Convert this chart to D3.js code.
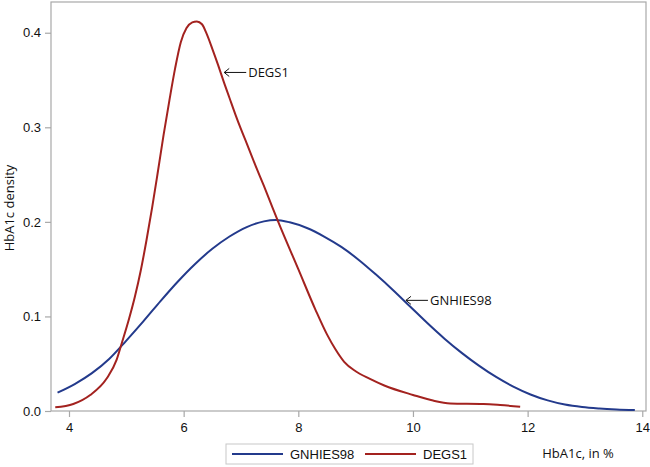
<!DOCTYPE html>
<html>
<head>
<meta charset="utf-8">
<script src="https://cdn.jsdelivr.net/npm/d3@7"></script>
<style>
  body { margin: 0; background: #fff; }
  svg { display: block; }
</style>
</head>
<body>
<div id="container"></div>
<script>
const width = 650,
  height = 467,
  margin = { top: 2, right: 4, bottom: 56, left: 51 }

// HbA1c (%) and density
const gnhiesX = [3.80, 4.10, 4.40, 4.70, 5.00, 5.30, 5.60, 5.90, 6.20, 6.50, 6.80, 7.10, 7.40, 7.60, 7.85, 8.15, 8.45, 8.75, 9.05, 9.35, 9.65, 9.95, 10.25, 10.55, 10.85, 11.15, 11.45, 11.75, 12.05, 12.35, 12.65, 12.95, 13.25, 13.55, 13.87]
const gnhiesY = [0.0194, 0.0285, 0.040, 0.055, 0.0745, 0.095, 0.1165, 0.137, 0.1555, 0.1715, 0.1845, 0.1945, 0.2005, 0.202, 0.1995, 0.1935, 0.1845, 0.1735, 0.160, 0.1445, 0.128, 0.1105, 0.093, 0.0765, 0.0615, 0.048, 0.036, 0.0258, 0.0175, 0.0112, 0.0068, 0.0042, 0.0027, 0.0017, 0.0010]

const degsX = [3.76, 4.075, 4.37, 4.66, 4.83, 4.92, 5.05, 5.15, 5.25, 5.35, 5.45, 5.55, 5.65, 5.75, 5.85, 5.95, 6.05, 6.15, 6.23, 6.32, 6.40, 6.50, 6.60, 6.70, 6.80, 6.90, 7.00, 7.10, 7.25, 7.40, 7.55, 7.65, 8.00, 8.30, 8.50, 8.65, 8.80, 9.00, 9.25, 9.50, 10.00, 10.35, 10.65, 11.23, 11.52, 11.87]
const degsY = [0.0039, 0.0074, 0.0169, 0.0346, 0.054, 0.0716, 0.098, 0.121, 0.148, 0.180, 0.215, 0.253, 0.292, 0.328, 0.362, 0.390, 0.405, 0.411, 0.412, 0.409, 0.399, 0.383, 0.366, 0.348, 0.331, 0.314, 0.298, 0.283, 0.260, 0.238, 0.215, 0.200, 0.150, 0.107, 0.081, 0.065, 0.052, 0.042, 0.034, 0.027, 0.017, 0.011, 0.008, 0.0074, 0.0063, 0.0045]

const xTicks = [4, 6, 8, 10, 12, 14]
const yTicks = [0.0, 0.1, 0.2, 0.3, 0.4]
const seriesNames = ["GNHIES98", "DEGS1"]
const seriesColors = ["#233a8c", "#a3221f"]

const series = [
  { name: seriesNames[0], color: seriesColors[0], values: gnhiesX.map((x, i) => ({ x: x, y: gnhiesY[i] })) },
  { name: seriesNames[1], color: seriesColors[1], values: degsX.map((x, i) => ({ x: x, y: degsY[i] })) }
]

// SCALES
const xScale = d3.scaleLinear()
  .domain([3.686, 14.065])
  .range([margin.left, width - margin.right])

const yScale = d3.scaleLinear()
  .domain([0, 0.4325])
  .range([height - margin.bottom, margin.top])

const svg = d3.select("#container")
  .append("svg")
  .attr("width", width)
  .attr("height", height)

// frame
svg.append("rect")
  .attr("x", margin.left)
  .attr("y", margin.top)
  .attr("width", width - margin.right - margin.left)
  .attr("height", height - margin.bottom - margin.top)
  .attr("fill", "none")
  .attr("stroke", "#a8a8a8")
  .attr("stroke-width", 1.2)

// AXES
const xAxis = d3.axisBottom(xScale).tickValues(xTicks).tickFormat(d3.format("d")).tickSize(6).tickPadding(6)
svg.append("g")
  .attr("transform", `translate(0,${height - margin.bottom})`)
  .call(xAxis)

const yAxis = d3.axisLeft(yScale).tickValues(yTicks).tickFormat(d3.format(".1f")).tickSize(6).tickPadding(4)
svg.append("g")
  .attr("transform", `translate(${margin.left},0)`)
  .call(yAxis)

svg.selectAll(".domain").remove()
svg.selectAll(".tick line").attr("stroke", "#a8a8a8").attr("stroke-width", 1.2)
svg.selectAll(".tick text")
  .attr("fill", "#111")
  .style("font", "13px 'Liberation Sans', Arial, sans-serif")

// axis titles
svg.append("text")
  .attr("transform", "translate(14,208) rotate(-90)")
  .attr("text-anchor", "middle")
  .style("font", "13px 'Open Sans', sans-serif")
  .attr("fill", "#111")
  .text("HbA1c density")

svg.append("text")
  .attr("x", 578)
  .attr("y", 458)
  .attr("text-anchor", "middle")
  .style("font", "13px 'Open Sans', sans-serif")
  .attr("fill", "#111")
  .text("HbA1c, in %")

// LINES
const lineGen = d3.line()
  .x(d => xScale(d.x))
  .y(d => yScale(d.y))
  .curve(d3.curveMonotoneX)

svg.selectAll(".line")
  .data(series)
  .join("path")
  .attr("class", "line")
  .attr("fill", "none")
  .attr("stroke", d => d.color)
  .attr("stroke-width", 2)
  .attr("stroke-linejoin", "round")
  .attr("d", d => lineGen(d.values))

// arrow annotations
const notes = [
  { x: 6.69, y: 0.358, text: "DEGS1" },
  { x: 9.86, y: 0.117, text: "GNHIES98" }
]
const note = svg.selectAll(".note")
  .data(notes)
  .join("g")
  .attr("class", "note")
  .attr("transform", d => `translate(${xScale(d.x) + 1},${yScale(d.y)})`)

note.append("path")
  .attr("d", "M22,0 H0 M5,-4 L0,0 L5,4")
  .attr("fill", "none")
  .attr("stroke", "#111")
  .attr("stroke-width", 1)

note.append("text")
  .attr("x", 24)
  .attr("dy", "0.35em")
  .style("font", "13px 'Open Sans', sans-serif")
  .attr("fill", "#111")
  .text(d => d.text)

// LEGEND
const legend = svg.append("g").attr("transform", "translate(226,444)")
legend.append("rect")
  .attr("width", 247)
  .attr("height", 20)
  .attr("fill", "#fff")
  .attr("stroke", "#c8c8c8")

const item = legend.selectAll(".item")
  .data(series)
  .join("g")
  .attr("class", "item")
  .attr("transform", (d, i) => `translate(${i === 0 ? 6 : 139},10)`)

item.append("line")
  .attr("x1", 0).attr("x2", 51)
  .attr("stroke", d => d.color)
  .attr("stroke-width", 2)

item.append("text")
  .attr("x", 58)
  .attr("dy", "0.35em")
  .style("font", "13px 'Liberation Sans', Arial, sans-serif")
  .attr("fill", "#111")
  .text(d => d.name)
</script>
</body>
</html>
